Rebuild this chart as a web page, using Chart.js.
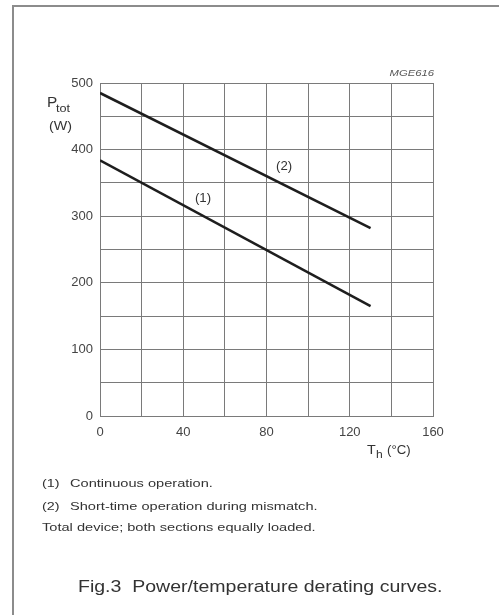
<!DOCTYPE html>
<html lang="en">
<head>
  <meta charset="UTF-8" />
  <title>Power/temperature derating curves</title>
  <script src="https://cdn.jsdelivr.net/npm/chart.js"></script>
  <style>
    html, body { margin: 0; padding: 0; background: #fff; }
    #wrap { position: relative; width: 499px; height: 615px; }
  </style>
</head>
<body>
  <div id="wrap"><canvas id="derating" width="499" height="615"></canvas></div>

  <script>
    // temperatures (°C) and power values (W)
    const tempPoints = [0, 130];
    const continuousPower = [384, 165];   // curve (1)
    const mismatchPower = [485, 282];     // curve (2)
    const xTicks = [0, 40, 80, 120, 160];
    const yTicks = [0, 100, 200, 300, 400, 500];

    const ink = '#1e1e1e';
    const gridGrey = '#7a7a7a';
    const font = '"Liberation Sans", Arial, sans-serif';

    const toXY = (xs, ys) => xs.map((x, i) => ({ x: x, y: ys[i] }));

    // the scan is a bit wider than the font, so stretch text horizontally
    function wideText(c, text, x, y, sx) {
      c.save();
      c.translate(x, y);
      c.scale(sx, 1);
      c.fillText(text, 0, 0);
      c.restore();
    }

    // text around the plot: axis titles, curve labels, notes, caption
    const annotations = {
      id: 'annotations',
      afterDraw(chart) {
        const c = chart.ctx;
        const xs = chart.scales.x, ys = chart.scales.y;
        c.save();
        c.fillStyle = '#333';
        c.textBaseline = 'middle';

        // frame lines (left and top only, as in the scan)
        c.strokeStyle = '#8c8c8c';
        c.lineWidth = 2;
        c.beginPath();
        c.moveTo(13, 615); c.lineTo(13, 6); c.lineTo(499, 6);
        c.stroke();

        // y title P_tot (W)
        c.textAlign = 'left';
        c.font = '14px ' + font;
        wideText(c, 'P', 47, 103, 1.1);
        c.font = '11px ' + font;
        wideText(c, 'tot', 56, 109, 1.15);
        c.font = '13px ' + font;
        wideText(c, '(W)', 49, 126, 1.1);

        // x title T_h (°C)
        c.font = '13px ' + font;
        wideText(c, 'T', 367, 450, 1.1);
        c.font = '11px ' + font;
        wideText(c, 'h', 376, 455, 1.1);
        c.font = '12px ' + font;
        wideText(c, '(°C)', 387, 451, 1.1);

        // drawing number
        c.textAlign = 'right';
        c.font = 'italic 9px ' + font;
        c.fillStyle = '#555';
        wideText(c, 'MGE616', xs.right + 1, 73, 1.25);

        // curve labels
        c.textAlign = 'center';
        c.font = '12px ' + font;
        c.fillStyle = '#333';
        wideText(c, '(1)', xs.getPixelForValue(49.5), ys.getPixelForValue(326), 1.1);
        wideText(c, '(2)', xs.getPixelForValue(88.5), ys.getPixelForValue(375), 1.1);

        // notes
        c.textAlign = 'left';
        c.font = '11.5px ' + font;
        wideText(c, '(1)', 42, 484, 1.25);
        wideText(c, 'Continuous operation.', 70, 484, 1.27);
        wideText(c, '(2)', 42, 507, 1.25);
        wideText(c, 'Short-time operation during mismatch.', 70, 507, 1.27);
        wideText(c, 'Total device; both sections equally loaded.', 42, 528, 1.27);

        // caption
        c.font = '16px ' + font;
        wideText(c, 'Fig.3  Power/temperature derating curves.', 78, 588, 1.22);
        c.restore();
      }
    };

    new Chart(document.getElementById('derating'), {
      type: 'scatter',
      data: {
        datasets: [
          {
            label: '(1) Continuous operation',
            data: toXY(tempPoints, continuousPower),
            showLine: true,
            borderColor: ink,
            borderWidth: 2.5,
            pointRadius: 0
          },
          {
            label: '(2) Short-time operation during mismatch',
            data: toXY(tempPoints, mismatchPower),
            showLine: true,
            borderColor: ink,
            borderWidth: 2.5,
            pointRadius: 0
          }
        ]
      },
      options: {
        responsive: false,
        animation: false,
        layout: {
          autoPadding: false,
          padding: { left: 60, top: 83, right: 66, bottom: 169 }
        },
        plugins: {
          legend: { display: false },
          tooltip: { enabled: false }
        },
        scales: {
          x: {
            type: 'linear',
            min: 0,
            max: 160,
            afterFit: s => { s.height = 30; },
            grid: { color: gridGrey, lineWidth: 1, drawTicks: false },
            border: { color: gridGrey, width: 1 },
            ticks: {
              stepSize: 20,
              padding: 9,
              color: '#444',
              font: { family: font, size: 13 },
              callback: v => (xTicks.includes(v) ? String(v) : '')
            }
          },
          y: {
            type: 'linear',
            min: 0,
            max: 500,
            afterFit: s => { s.width = 40; },
            grid: { color: gridGrey, lineWidth: 1, drawTicks: false },
            border: { color: gridGrey, width: 1 },
            ticks: {
              stepSize: 50,
              padding: 7,
              color: '#444',
              font: { family: font, size: 13 },
              callback: v => (yTicks.includes(v) ? String(v) : '')
            }
          }
        }
      },
      plugins: [annotations]
    });
  </script>
</body>
</html>
